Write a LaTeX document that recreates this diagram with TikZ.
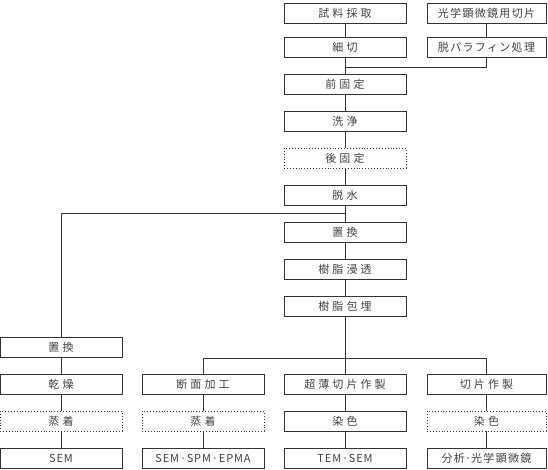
\documentclass[tikz,border=0pt]{standalone}
\usepackage{fontspec}
\newfontfamily\jp[LetterSpace=28]{Noto Sans CJK JP}
\newfontfamily\jpn[LetterSpace=12]{Noto Sans CJK JP}
\newfontfamily\lat[LetterSpace=8]{Noto Sans CJK JP}
\begin{document}
\begin{tikzpicture}[x=1pt,y=-1pt,
  box/.style={draw=black!80,line width=0.9pt,minimum width=122pt,minimum height=20pt,inner sep=0pt,
    font=\jp\fontsize{11}{12}\selectfont,text=black!75},
  dbox/.style={box,dotted},
  wbox/.style={box,minimum width=119pt},
  lt/.style={font=\lat\fontsize{11}{12}\selectfont},
  nt/.style={font=\jpn\fontsize{11}{12}\selectfont},
  conn/.style={draw=black!80,line width=0.9pt}]
\useasboundingbox (0,0) rectangle (548,470);
% main column
\node[box]  (a1) at (345,13) {試料採取};
\node[box]  (a2) at (345,47) {細切};
\node[box]  (a3) at (345,84) {前固定};
\node[box]  (a4) at (345,121) {洗浄};
\node[dbox] (a5) at (345,158) {後固定};
\node[box]  (a6) at (345,195) {脱水};
\node[box]  (a7) at (345,232) {置換};
\node[box]  (a8) at (345,269) {樹脂浸透};
\node[box]  (a9) at (345,306) {樹脂包埋};
% right top column
\node[wbox,nt] (r1) at (486.5,13) {光学顕微鏡用切片};
\node[wbox,nt] (r2) at (486.5,47) {脱パラフィン処理};
% left column
\node[box]  (l1) at (61,347.5) {置換};
\node[box]  (l2) at (61,384) {乾燥};
\node[dbox] (l3) at (61,421) {蒸着};
\node[box,lt]  (l4) at (61,458) {SEM};
% column 2
\node[box]  (b2) at (203,384) {断面加工};
\node[dbox] (b3) at (203,421) {蒸着};
\node[box,lt]  (b4) at (203,458) {SEM·SPM·EPMA};
% column 3
\node[box]  (c2) at (345,384) {超薄切片作製};
\node[box]  (c3) at (345,421) {染色};
\node[box,lt]  (c4) at (345,458) {TEM·SEM};
% column 4
\node[wbox] (d2) at (486.5,384) {切片作製};
\node[dbox,minimum width=119pt] (d3) at (486.5,421) {染色};
\node[wbox,nt] (d4) at (486.5,458) {分析{\lat·}光学顕微鏡};
% junction coordinates
\coordinate (j1) at (345,67);
\coordinate (j2) at (345,213);
\coordinate (j3) at (345,358);
% connectors
\draw[conn] (a1) -- (a2);
\draw[conn] (r1) -- (r2);
\draw[conn] (a2) -- (a3);
\draw[conn] (r2.south) |- (j1);
\draw[conn] (a3) -- (a4);
\draw[conn] (a4) -- (a5);
\draw[conn] (a5) -- (a6);
\draw[conn] (a6) -- (a7);
\draw[conn] (j2) -| (l1.north);
\draw[conn] (a7) -- (a8);
\draw[conn] (a8) -- (a9);
\draw[conn] (a9) -- (j3);
\draw[conn] (j3) -| (b2.north);
\draw[conn] (j3) -| (d2.north);
\draw[conn] (j3) -- (c2);
\draw[conn] (l1) -- (l2);
\draw[conn] (l2) -- (l3);
\draw[conn] (l3) -- (l4);
\draw[conn] (b2) -- (b3);
\draw[conn] (b3) -- (b4);
\draw[conn] (c2) -- (c3);
\draw[conn] (c3) -- (c4);
\draw[conn] (d2) -- (d3);
\draw[conn] (d3) -- (d4);
\end{tikzpicture}
\end{document}
